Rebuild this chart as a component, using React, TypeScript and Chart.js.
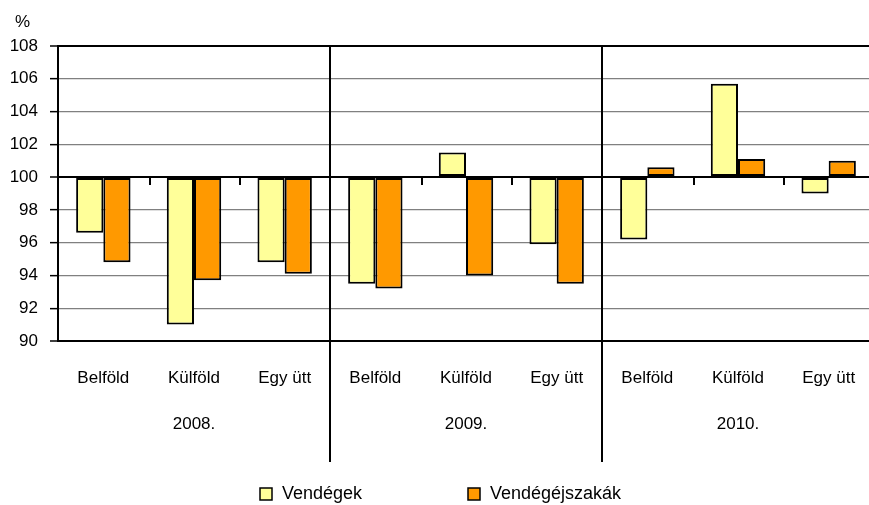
import React, { useEffect, useRef } from "react";
import { Chart, registerables } from "chart.js";

Chart.register(...registerables);

const categories = ["Belföld", "Külföld", "Egy ütt", "Belföld", "Külföld", "Egy ütt", "Belföld", "Külföld", "Egy ütt"];
const years = ["2008.", "2009.", "2010."];
const vendegek = [96.6, 91.0, 94.8, 93.5, 101.5, 95.9, 96.2, 105.7, 99.0];
const vendegejszakak = [94.8, 93.7, 94.1, 93.2, 94.0, 93.5, 100.6, 101.1, 101.0];
const seriesNames = ["Vendégek", "Vendégéjszakák"];
const seriesColors = ["#FFFF99", "#FF9900"];
const yMin = 90;
const yMax = 108;
const yStep = 2;
const baseValue = 100;
const unitLabel = "%";

const FONT = "'Liberation Sans', Arial, sans-serif";
const FS = 17;

const decorPlugin = {
  id: "decor",
  afterDraw(chart: any) {
    const ctx = chart.ctx;
    const x = chart.scales.x;
    const y = chart.scales.y;
    const area = chart.chartArea;
    ctx.save();
    // group separators
    ctx.strokeStyle = "#000";
    ctx.lineWidth = 2;
    for (let i = 3; i < categories.length; i += 3) {
      const px = Math.round((x.getPixelForValue(i - 1) + x.getPixelForValue(i)) / 2);
      ctx.beginPath();
      ctx.moveTo(px, area.top);
      ctx.lineTo(px, 462);
      ctx.stroke();
    }
    // small ticks on base line
    const y100 = y.getPixelForValue(baseValue);
    for (let i = 1; i < categories.length; i++) {
      if (i % 3 === 0) continue;
      const px = Math.round((x.getPixelForValue(i - 1) + x.getPixelForValue(i)) / 2) + 1;
      ctx.beginPath();
      ctx.moveTo(px, y100);
      ctx.lineTo(px, y100 + 8);
      ctx.stroke();
    }
    // unit label
    ctx.fillStyle = "#000";
    ctx.font = FS + "px " + FONT;
    ctx.textAlign = "left";
    ctx.textBaseline = "alphabetic";
    ctx.fillText(unitLabel, y.left + 15, area.top - 19);
    // legend
    const starts = [260, 468];
    const boxY = 488;
    ctx.font = "18px " + FONT;
    chart.data.datasets.forEach((ds: any, i: number) => {
      const bx = starts[i];
      ctx.fillStyle = ds.backgroundColor;
      ctx.fillRect(bx, boxY, 12, 12);
      ctx.strokeStyle = "#000";
      ctx.lineWidth = 1.5;
      ctx.strokeRect(bx, boxY, 12, 12);
      ctx.fillStyle = "#000";
      ctx.textBaseline = "middle";
      ctx.fillText(ds.label, bx + 22, boxY + 6);
    });
    ctx.restore();
  },
};

export default function App() {
  const ref = useRef<HTMLCanvasElement>(null);
  useEffect(() => {
    if (!ref.current) return;
    const chart = new Chart(ref.current, {
      type: "bar",
      data: {
        labels: categories,
        datasets: [
          {
            label: seriesNames[0],
            data: vendegek,
            backgroundColor: seriesColors[0],
            borderColor: "#000",
            borderWidth: 2,
            borderSkipped: false,
            base: baseValue,
          } as any,
          {
            label: seriesNames[1],
            data: vendegejszakak,
            backgroundColor: seriesColors[1],
            borderColor: "#000",
            borderWidth: 2,
            borderSkipped: false,
            base: baseValue,
          } as any,
        ],
      },
      options: {
        responsive: false,
        animation: false,
        events: [],
        layout: { padding: { top: 46, left: 0, right: 0, bottom: 60 } },
        datasets: { bar: { categoryPercentage: 0.6, barPercentage: 1.0 } },
        plugins: { legend: { display: false }, tooltip: { enabled: false }, title: { display: false } },
        scales: {
          x: {
            type: "category",
            position: "bottom",
            offset: true,
            grid: { display: false, drawTicks: false },
            border: { display: true, color: "#000", width: 2 },
            ticks: { color: "#000", font: { family: FONT, size: FS }, padding: 27, autoSkip: false, maxRotation: 0 },
            afterFit: (s: any) => { s.height = 60; s.paddingLeft = 0; s.paddingRight = 0; },
          },
          x2: {
            type: "category",
            position: "bottom",
            labels: years,
            offset: true,
            grid: { display: false, drawTicks: false },
            border: { display: false },
            ticks: { color: "#000", font: { family: FONT, size: FS }, padding: 13, autoSkip: false, maxRotation: 0 },
            afterFit: (s: any) => { s.height = 44; s.paddingLeft = 0; s.paddingRight = 0; },
          },
          y: {
            min: yMin,
            max: yMax,
            ticks: { stepSize: yStep, color: "#000", font: { family: FONT, size: FS }, padding: 12 },
            grid: {
              color: (c: any) => (c.tick && (c.tick.value === baseValue || c.tick.value === yMax || c.tick.value === yMin) ? "#000" : "#808080"),
              lineWidth: (c: any) => (c.tick && (c.tick.value === baseValue || c.tick.value === yMax || c.tick.value === yMin) ? 2 : 1.3),
              tickColor: "#000",
              tickWidth: 1.5,
              tickLength: 8,
              drawTicks: true,
            },
            border: { display: true, color: "#000", width: 2 },
            afterFit: (s: any) => { s.width = 58; },
          },
        },
      } as any,
      plugins: [decorPlugin],
    });
    return () => chart.destroy();
  }, []);
  return (
    <div style={{ position: "absolute", left: 0, top: 0, width: 869, height: 505, overflow: "hidden", background: "#fff" }}>
      <canvas ref={ref} width={874} height={505} style={{ display: "block" }} />
    </div>
  );
}
